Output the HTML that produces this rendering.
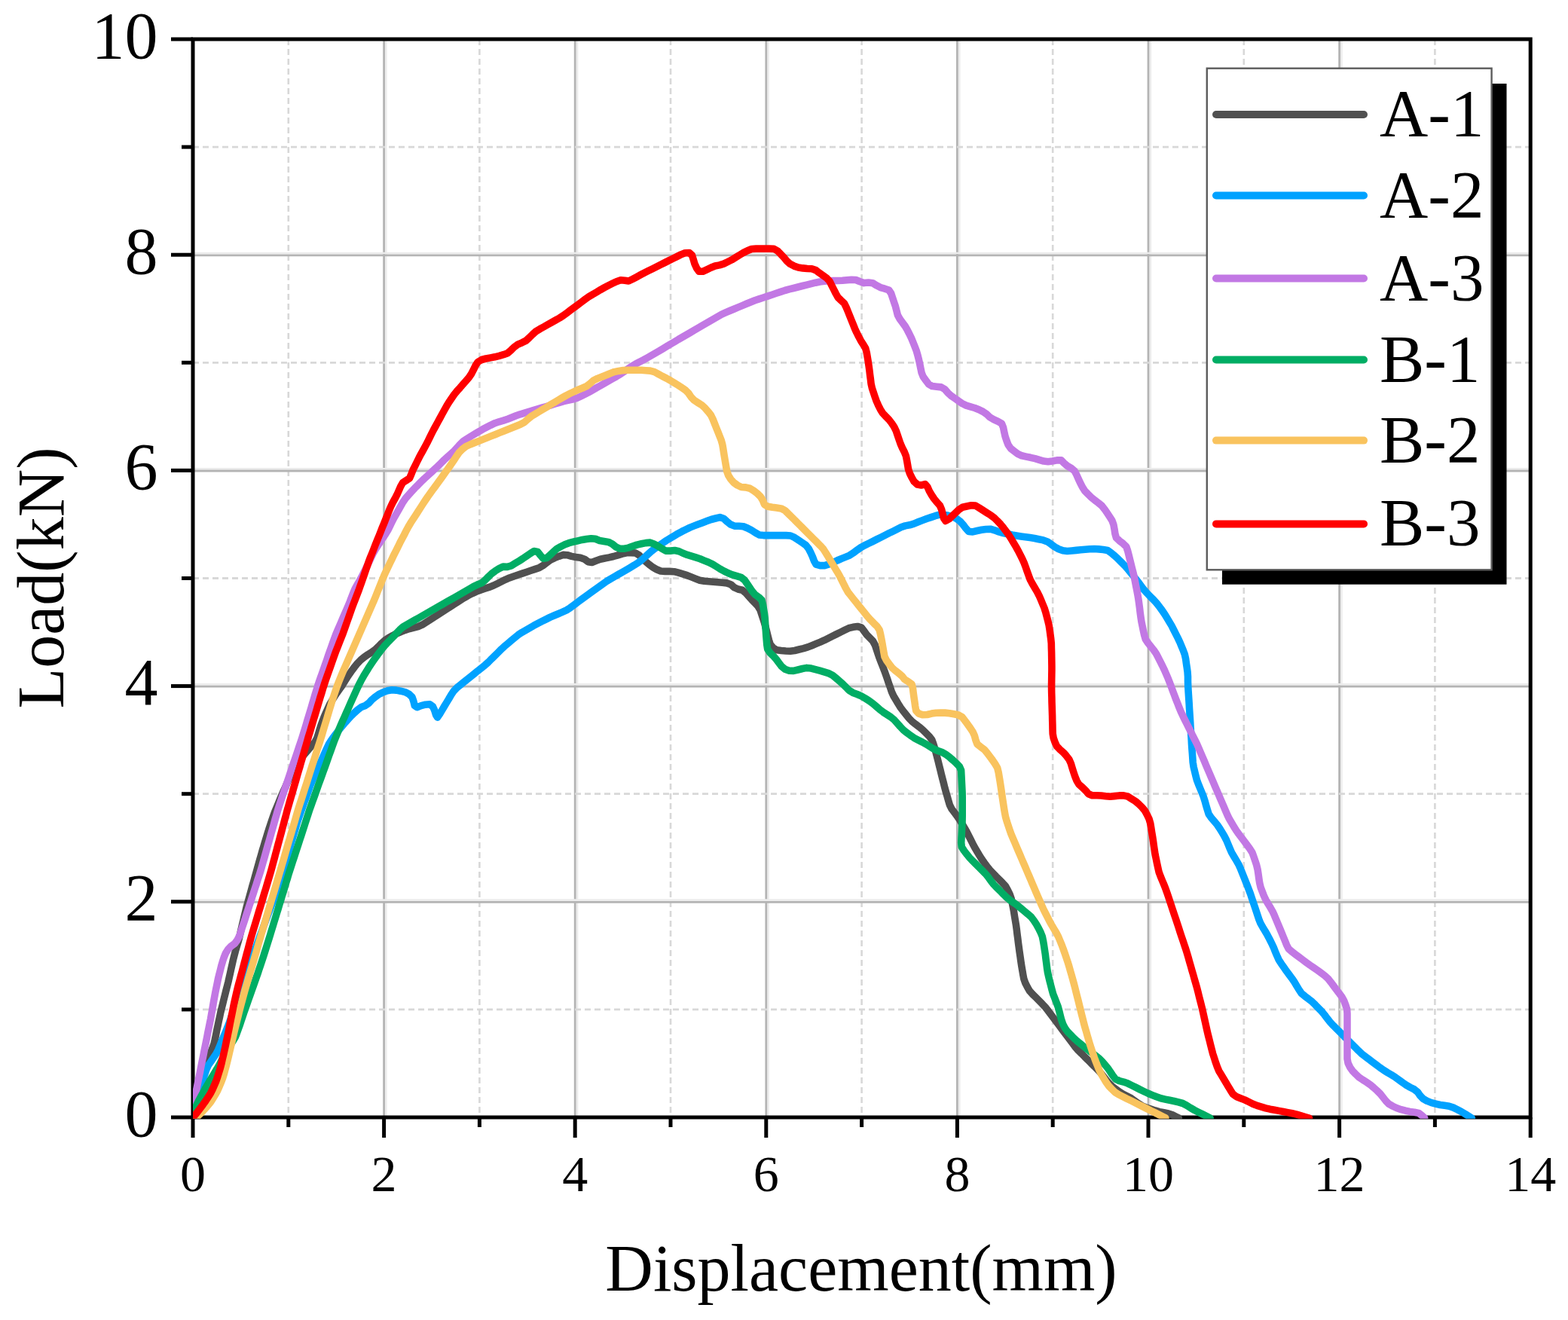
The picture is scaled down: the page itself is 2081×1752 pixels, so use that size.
<!DOCTYPE html>
<html><head><meta charset="utf-8"><title>Load-Displacement</title>
<style>html,body{margin:0;padding:0;background:#fff;}svg{display:block;}</style>
</head><body>
<svg width="2081" height="1752" viewBox="0 0 2081 1752">
<rect x="0" y="0" width="2081" height="1752" fill="#ffffff"/>
<line x1="382.8" y1="52.0" x2="382.8" y2="1483.0" stroke="#d8d8d8" stroke-width="2.6" stroke-dasharray="8,5"/>
<line x1="512.4" y1="52.0" x2="512.4" y2="1483.0" stroke="#ececec" stroke-width="2.6"/>
<line x1="509.6" y1="52.0" x2="509.6" y2="1483.0" stroke="#b4b4b4" stroke-width="2.8"/>
<line x1="636.4" y1="52.0" x2="636.4" y2="1483.0" stroke="#d8d8d8" stroke-width="2.6" stroke-dasharray="8,5"/>
<line x1="766.0" y1="52.0" x2="766.0" y2="1483.0" stroke="#ececec" stroke-width="2.6"/>
<line x1="763.2" y1="52.0" x2="763.2" y2="1483.0" stroke="#b4b4b4" stroke-width="2.8"/>
<line x1="890.0" y1="52.0" x2="890.0" y2="1483.0" stroke="#d8d8d8" stroke-width="2.6" stroke-dasharray="8,5"/>
<line x1="1019.6" y1="52.0" x2="1019.6" y2="1483.0" stroke="#ececec" stroke-width="2.6"/>
<line x1="1016.8" y1="52.0" x2="1016.8" y2="1483.0" stroke="#b4b4b4" stroke-width="2.8"/>
<line x1="1143.6" y1="52.0" x2="1143.6" y2="1483.0" stroke="#d8d8d8" stroke-width="2.6" stroke-dasharray="8,5"/>
<line x1="1273.2" y1="52.0" x2="1273.2" y2="1483.0" stroke="#ececec" stroke-width="2.6"/>
<line x1="1270.4" y1="52.0" x2="1270.4" y2="1483.0" stroke="#b4b4b4" stroke-width="2.8"/>
<line x1="1397.2" y1="52.0" x2="1397.2" y2="1483.0" stroke="#d8d8d8" stroke-width="2.6" stroke-dasharray="8,5"/>
<line x1="1526.8" y1="52.0" x2="1526.8" y2="1483.0" stroke="#ececec" stroke-width="2.6"/>
<line x1="1524.0" y1="52.0" x2="1524.0" y2="1483.0" stroke="#b4b4b4" stroke-width="2.8"/>
<line x1="1650.8" y1="52.0" x2="1650.8" y2="1483.0" stroke="#d8d8d8" stroke-width="2.6" stroke-dasharray="8,5"/>
<line x1="1780.4" y1="52.0" x2="1780.4" y2="1483.0" stroke="#ececec" stroke-width="2.6"/>
<line x1="1777.6" y1="52.0" x2="1777.6" y2="1483.0" stroke="#b4b4b4" stroke-width="2.8"/>
<line x1="1904.4" y1="52.0" x2="1904.4" y2="1483.0" stroke="#d8d8d8" stroke-width="2.6" stroke-dasharray="8,5"/>
<line x1="256.0" y1="1339.9" x2="2031.2" y2="1339.9" stroke="#d8d8d8" stroke-width="2.8" stroke-dasharray="8,5"/>
<line x1="256.0" y1="1194.6" x2="2031.2" y2="1194.6" stroke="#ececec" stroke-width="2.6"/>
<line x1="256.0" y1="1197.4" x2="2031.2" y2="1197.4" stroke="#b4b4b4" stroke-width="2.8"/>
<line x1="256.0" y1="1053.7" x2="2031.2" y2="1053.7" stroke="#d8d8d8" stroke-width="2.8" stroke-dasharray="8,5"/>
<line x1="256.0" y1="908.4" x2="2031.2" y2="908.4" stroke="#ececec" stroke-width="2.6"/>
<line x1="256.0" y1="911.2" x2="2031.2" y2="911.2" stroke="#b4b4b4" stroke-width="2.8"/>
<line x1="256.0" y1="767.5" x2="2031.2" y2="767.5" stroke="#d8d8d8" stroke-width="2.8" stroke-dasharray="8,5"/>
<line x1="256.0" y1="622.2" x2="2031.2" y2="622.2" stroke="#ececec" stroke-width="2.6"/>
<line x1="256.0" y1="625.0" x2="2031.2" y2="625.0" stroke="#b4b4b4" stroke-width="2.8"/>
<line x1="256.0" y1="481.3" x2="2031.2" y2="481.3" stroke="#d8d8d8" stroke-width="2.8" stroke-dasharray="8,5"/>
<line x1="256.0" y1="336.0" x2="2031.2" y2="336.0" stroke="#ececec" stroke-width="2.6"/>
<line x1="256.0" y1="338.8" x2="2031.2" y2="338.8" stroke="#b4b4b4" stroke-width="2.8"/>
<line x1="256.0" y1="195.1" x2="2031.2" y2="195.1" stroke="#d8d8d8" stroke-width="2.8" stroke-dasharray="8,5"/>
<rect x="256.0" y="52.0" width="1775.2" height="1431.0" fill="none" stroke="#000" stroke-width="5"/>
<line x1="256.0" y1="1483.0" x2="256.0" y2="1510.0" stroke="#000" stroke-width="5"/>
<line x1="382.8" y1="1483.0" x2="382.8" y2="1496.0" stroke="#000" stroke-width="5"/>
<line x1="509.6" y1="1483.0" x2="509.6" y2="1510.0" stroke="#000" stroke-width="5"/>
<line x1="636.4" y1="1483.0" x2="636.4" y2="1496.0" stroke="#000" stroke-width="5"/>
<line x1="763.2" y1="1483.0" x2="763.2" y2="1510.0" stroke="#000" stroke-width="5"/>
<line x1="890.0" y1="1483.0" x2="890.0" y2="1496.0" stroke="#000" stroke-width="5"/>
<line x1="1016.8" y1="1483.0" x2="1016.8" y2="1510.0" stroke="#000" stroke-width="5"/>
<line x1="1143.6" y1="1483.0" x2="1143.6" y2="1496.0" stroke="#000" stroke-width="5"/>
<line x1="1270.4" y1="1483.0" x2="1270.4" y2="1510.0" stroke="#000" stroke-width="5"/>
<line x1="1397.2" y1="1483.0" x2="1397.2" y2="1496.0" stroke="#000" stroke-width="5"/>
<line x1="1524.0" y1="1483.0" x2="1524.0" y2="1510.0" stroke="#000" stroke-width="5"/>
<line x1="1650.8" y1="1483.0" x2="1650.8" y2="1496.0" stroke="#000" stroke-width="5"/>
<line x1="1777.6" y1="1483.0" x2="1777.6" y2="1510.0" stroke="#000" stroke-width="5"/>
<line x1="1904.4" y1="1483.0" x2="1904.4" y2="1496.0" stroke="#000" stroke-width="5"/>
<line x1="2031.2" y1="1483.0" x2="2031.2" y2="1510.0" stroke="#000" stroke-width="5"/>
<line x1="227.0" y1="1483.0" x2="256.0" y2="1483.0" stroke="#000" stroke-width="5"/>
<line x1="241.0" y1="1339.9" x2="256.0" y2="1339.9" stroke="#000" stroke-width="5"/>
<line x1="227.0" y1="1196.8" x2="256.0" y2="1196.8" stroke="#000" stroke-width="5"/>
<line x1="241.0" y1="1053.7" x2="256.0" y2="1053.7" stroke="#000" stroke-width="5"/>
<line x1="227.0" y1="910.6" x2="256.0" y2="910.6" stroke="#000" stroke-width="5"/>
<line x1="241.0" y1="767.5" x2="256.0" y2="767.5" stroke="#000" stroke-width="5"/>
<line x1="227.0" y1="624.4" x2="256.0" y2="624.4" stroke="#000" stroke-width="5"/>
<line x1="241.0" y1="481.3" x2="256.0" y2="481.3" stroke="#000" stroke-width="5"/>
<line x1="227.0" y1="338.2" x2="256.0" y2="338.2" stroke="#000" stroke-width="5"/>
<line x1="241.0" y1="195.1" x2="256.0" y2="195.1" stroke="#000" stroke-width="5"/>
<line x1="227.0" y1="52.0" x2="256.0" y2="52.0" stroke="#000" stroke-width="5"/>
<defs><clipPath id="pc"><rect x="256.0" y="52.0" width="1775.2" height="1432.8"/></clipPath></defs>
<g fill="none" stroke-linejoin="round" stroke-linecap="round" clip-path="url(#pc)">
<path d="M254.5,1482.2 L255.2,1476.2 L256.0,1470.3 L256.8,1464.3 L257.9,1458.4 L259.4,1452.6 L260.9,1446.8 L262.5,1441.0 L264.2,1435.3 L266.0,1429.6 L267.9,1423.9 L269.9,1418.2 L272.2,1412.7 L274.8,1407.3 L277.5,1401.9 L279.8,1396.4 L282.1,1390.9 L284.1,1385.2 L285.4,1379.4 L286.6,1373.5 L287.7,1367.6 L289.0,1361.7 L290.2,1355.9 L291.5,1350.0 L292.7,1344.1 L294.1,1338.3 L295.6,1332.5 L297.0,1326.7 L298.5,1320.8 L299.9,1315.0 L301.4,1309.2 L302.9,1303.4 L304.2,1297.5 L305.5,1291.7 L306.8,1285.8 L308.1,1280.0 L309.4,1274.1 L310.9,1268.3 L312.4,1262.5 L314.1,1256.7 L315.8,1251.0 L317.4,1245.2 L318.8,1239.4 L320.1,1233.5 L321.5,1227.7 L322.9,1221.8 L324.3,1216.0 L325.7,1210.2 L327.1,1204.3 L328.7,1198.5 L330.3,1192.8 L331.9,1187.0 L333.5,1181.2 L335.1,1175.4 L336.8,1169.7 L338.4,1163.9 L340.0,1158.1 L341.6,1152.3 L343.2,1146.5 L344.8,1140.8 L346.5,1135.0 L348.1,1129.2 L349.9,1123.5 L351.6,1117.7 L353.3,1112.0 L355.1,1106.2 L356.9,1100.5 L358.8,1094.8 L360.7,1089.1 L362.6,1083.5 L364.6,1077.8 L366.9,1072.3 L369.2,1066.7 L371.5,1061.2 L373.8,1055.7 L376.2,1050.2 L378.7,1044.7 L381.1,1039.2 L383.6,1033.7 L386.0,1028.3 L388.6,1022.9 L391.9,1017.9 L395.3,1012.9 L398.8,1008.0 L402.3,1003.2 L406.2,998.6 L410.1,994.1 L414.0,989.5 L417.9,985.0 L420.7,979.8 L422.5,974.1 L424.2,968.3 L426.0,962.6 L428.1,957.0 L430.2,951.4 L432.6,945.9 L435.1,940.4 L437.6,935.0 L440.6,929.8 L443.8,924.7 L447.1,919.7 L450.6,914.8 L454.0,909.9 L457.2,904.8 L460.4,899.7 L463.7,894.7 L467.1,889.8 L470.7,885.0 L474.5,880.3 L478.7,876.0 L483.3,872.2 L488.2,868.8 L493.3,865.7 L498.1,862.2 L502.4,858.0 L506.6,853.7 L511.0,849.7 L516.0,846.4 L521.3,843.5 L526.6,840.9 L532.1,838.5 L537.7,836.3 L543.4,834.5 L549.2,833.0 L555.0,831.6 L560.5,829.2 L565.5,826.0 L570.6,822.7 L575.6,819.5 L580.7,816.2 L585.7,813.0 L590.7,809.7 L595.8,806.5 L600.8,803.2 L605.9,800.0 L610.9,796.7 L616.0,793.5 L621.2,790.5 L626.5,787.8 L631.9,785.3 L637.6,783.2 L643.3,781.3 L649.0,779.4 L654.6,777.3 L659.9,774.7 L665.3,772.0 L670.7,769.3 L676.2,766.9 L681.8,764.9 L687.5,763.0 L693.2,761.1 L698.9,759.2 L704.6,757.3 L710.3,755.4 L715.9,753.4 L721.0,750.3 L725.8,746.7 L730.6,743.2 L736.0,740.6 L741.6,738.4 L747.2,736.4 L752.8,736.7 L758.5,738.4 L764.4,739.5 L770.3,740.3 L775.8,742.2 L780.5,745.7 L785.6,746.5 L791.1,744.3 L796.7,742.3 L802.6,741.0 L808.5,739.9 L814.3,738.5 L820.1,736.8 L825.8,735.1 L831.6,733.8 L837.6,733.6 L843.5,734.0 L848.2,736.9 L852.5,741.2 L856.9,745.3 L861.4,749.1 L866.2,752.8 L871.4,755.7 L876.9,758.0 L882.8,758.4 L888.8,758.4 L894.7,758.7 L900.5,760.2 L906.2,761.9 L912.0,763.7 L917.6,765.9 L923.1,768.1 L928.7,770.2 L934.6,771.2 L940.6,771.7 L946.6,772.2 L952.5,772.7 L958.5,773.3 L964.5,773.9 L969.9,775.7 L974.3,779.6 L979.5,782.0 L985.2,783.3 L989.7,786.9 L993.6,791.4 L997.6,795.9 L1001.8,800.2 L1005.9,804.5 L1008.9,809.5 L1010.8,815.2 L1012.7,820.9 L1014.5,826.6 L1016.1,832.4 L1017.6,838.2 L1019.0,844.0 L1020.5,849.8 L1022.3,855.4 L1026.1,859.9 L1031.0,862.8 L1036.9,863.5 L1042.9,864.0 L1048.8,864.3 L1054.7,863.5 L1060.5,862.0 L1066.4,860.6 L1072.1,858.9 L1077.7,856.7 L1083.2,854.4 L1088.8,852.1 L1094.2,849.7 L1099.6,847.0 L1105.0,844.3 L1110.3,841.6 L1115.7,839.0 L1121.1,836.3 L1126.5,833.7 L1132.2,832.3 L1138.1,831.5 L1143.2,832.9 L1146.7,837.5 L1150.2,842.3 L1154.4,846.6 L1158.5,850.9 L1161.3,856.1 L1163.2,861.8 L1165.1,867.4 L1167.0,873.1 L1169.2,878.7 L1171.4,884.3 L1173.6,889.9 L1175.6,895.5 L1177.6,901.2 L1179.5,906.9 L1181.5,912.5 L1183.4,918.2 L1185.9,923.7 L1188.9,928.8 L1192.0,934.0 L1195.2,939.1 L1198.8,943.8 L1202.5,948.5 L1206.3,953.2 L1210.4,957.5 L1215.1,961.2 L1219.9,964.8 L1224.5,968.6 L1228.8,972.9 L1233.0,977.1 L1236.7,981.7 L1238.7,987.2 L1240.5,993.0 L1242.1,998.7 L1243.6,1004.6 L1245.1,1010.4 L1246.5,1016.2 L1248.0,1022.0 L1249.4,1027.8 L1250.9,1033.7 L1252.4,1039.5 L1253.8,1045.3 L1255.4,1051.1 L1257.1,1056.9 L1258.7,1062.6 L1260.4,1068.4 L1263.0,1073.7 L1266.6,1078.4 L1270.3,1083.2 L1273.6,1088.1 L1276.7,1093.3 L1279.8,1098.4 L1282.8,1103.6 L1285.5,1109.0 L1288.2,1114.3 L1290.9,1119.7 L1293.7,1125.0 L1296.8,1130.2 L1299.8,1135.3 L1303.0,1140.4 L1306.5,1145.3 L1310.1,1150.1 L1313.8,1154.8 L1317.9,1159.1 L1322.1,1163.4 L1326.4,1167.6 L1330.6,1171.9 L1334.6,1176.3 L1337.5,1181.6 L1340.1,1186.9 L1342.1,1192.5 L1343.3,1198.4 L1344.5,1204.3 L1345.6,1210.2 L1346.5,1216.1 L1347.5,1222.0 L1348.5,1228.0 L1349.3,1233.9 L1350.0,1239.9 L1350.8,1245.8 L1351.5,1251.8 L1352.3,1257.7 L1353.1,1263.7 L1354.0,1269.6 L1354.8,1275.5 L1355.7,1281.5 L1356.7,1287.4 L1357.7,1293.3 L1358.8,1299.2 L1360.8,1304.8 L1363.5,1310.1 L1366.5,1315.3 L1370.5,1319.7 L1374.8,1323.9 L1379.0,1328.1 L1383.2,1332.4 L1387.3,1336.8 L1391.0,1341.5 L1394.6,1346.3 L1398.2,1351.1 L1401.8,1355.9 L1405.4,1360.7 L1409.0,1365.5 L1412.6,1370.3 L1416.2,1375.1 L1419.8,1379.9 L1423.4,1384.7 L1427.0,1389.5 L1430.9,1394.0 L1435.2,1398.2 L1439.4,1402.5 L1443.7,1406.7 L1447.9,1411.0 L1452.2,1415.2 L1456.4,1419.5 L1460.5,1423.8 L1464.3,1428.5 L1468.0,1433.2 L1471.8,1437.8 L1476.1,1442.0 L1480.8,1445.6 L1485.6,1449.2 L1490.7,1452.3 L1496.1,1455.0 L1501.4,1457.8 L1506.3,1461.3 L1511.1,1464.8 L1516.1,1468.1 L1521.6,1470.2 L1527.3,1472.1 L1533.0,1474.0 L1538.8,1475.6 L1544.7,1476.8 L1550.6,1478.0 L1556.2,1479.9 L1561.5,1482.5 L1564.3,1483.9" stroke="#505050" stroke-width="9.6"/>
<path d="M254.5,1482.2 L256.0,1476.4 L257.5,1470.6 L259.1,1464.8 L260.7,1459.0 L262.6,1453.3 L264.5,1447.6 L266.4,1441.9 L268.3,1436.2 L270.2,1430.6 L272.1,1424.9 L274.0,1419.2 L276.5,1413.8 L279.9,1408.9 L283.3,1404.0 L286.7,1399.0 L289.5,1393.7 L291.8,1388.2 L294.0,1382.6 L296.3,1377.1 L298.7,1371.5 L300.9,1366.0 L303.2,1360.4 L305.3,1354.8 L307.2,1349.1 L309.1,1343.4 L311.0,1337.7 L312.9,1332.1 L315.0,1326.4 L317.0,1320.8 L319.0,1315.1 L321.0,1309.5 L323.0,1303.8 L325.1,1298.2 L327.1,1292.5 L329.1,1286.9 L331.1,1281.2 L333.1,1275.6 L335.1,1269.9 L337.2,1264.3 L339.2,1258.6 L341.2,1253.0 L343.3,1247.3 L345.3,1241.7 L347.4,1236.1 L349.5,1230.4 L351.6,1224.8 L353.7,1219.2 L355.8,1213.6 L357.9,1208.0 L360.0,1202.3 L362.1,1196.7 L364.2,1191.1 L366.3,1185.5 L368.3,1179.8 L370.3,1174.2 L372.0,1168.4 L373.7,1162.7 L375.4,1156.9 L377.1,1151.1 L378.7,1145.4 L380.4,1139.6 L382.1,1133.9 L383.8,1128.1 L385.5,1122.3 L387.1,1116.6 L388.8,1110.8 L390.5,1105.1 L392.2,1099.3 L393.9,1093.5 L395.7,1087.8 L397.7,1082.2 L399.7,1076.5 L401.7,1070.9 L403.7,1065.2 L405.8,1059.6 L407.8,1053.9 L409.8,1048.3 L411.8,1042.6 L414.1,1037.1 L416.5,1031.6 L419.0,1026.1 L421.5,1020.7 L423.9,1015.2 L426.4,1009.7 L428.9,1004.2 L431.3,998.8 L433.8,993.3 L436.3,987.9 L439.5,982.8 L443.0,977.9 L446.6,973.1 L450.3,968.4 L454.1,963.7 L457.9,959.2 L461.9,954.7 L466.0,950.3 L470.3,946.1 L474.7,942.1 L479.5,938.5 L485.0,936.4 L489.7,933.0 L493.7,928.6 L498.3,924.8 L503.1,921.3 L508.5,918.8 L514.2,916.8 L520.0,915.7 L525.9,916.1 L531.8,917.2 L537.6,918.6 L542.8,921.3 L547.0,925.3 L548.9,930.9 L550.3,936.6 L553.5,938.7 L558.9,936.6 L564.7,935.2 L570.4,934.7 L574.5,937.9 L576.9,943.3 L578.6,949.0 L580.6,952.1 L583.4,948.1 L586.5,942.9 L589.5,937.8 L592.6,932.6 L595.7,927.5 L598.7,922.3 L602.0,917.3 L606.1,913.1 L610.8,909.3 L615.4,905.5 L620.1,901.7 L624.8,898.0 L629.5,894.2 L634.1,890.4 L638.8,886.7 L643.5,882.9 L648.0,879.0 L652.2,874.7 L656.5,870.5 L660.7,866.3 L665.0,862.0 L669.4,857.9 L674.0,854.1 L678.6,850.2 L683.2,846.4 L687.8,842.6 L692.8,839.3 L698.0,836.3 L703.2,833.3 L708.4,830.3 L713.7,827.5 L719.0,824.8 L724.4,822.1 L729.8,819.4 L735.3,817.0 L740.8,814.7 L746.3,812.4 L751.8,809.9 L756.8,806.7 L761.6,803.1 L766.4,799.5 L771.2,795.9 L776.1,792.3 L780.9,788.8 L785.7,785.3 L790.6,781.8 L795.5,778.3 L800.4,774.8 L805.3,771.4 L810.4,768.3 L815.6,765.3 L820.9,762.3 L826.1,759.3 L831.3,756.3 L836.4,753.3 L841.6,750.2 L846.7,747.0 L851.4,743.4 L855.9,739.4 L860.3,735.4 L864.8,731.4 L869.6,727.7 L874.5,724.3 L879.4,720.9 L884.3,717.5 L889.5,714.4 L894.6,711.3 L899.8,708.2 L905.0,705.4 L910.4,702.7 L915.8,700.1 L921.4,697.9 L927.0,695.8 L932.6,693.7 L938.2,691.6 L943.9,689.5 L949.7,688.0 L955.5,686.6 L960.5,688.2 L964.8,692.3 L969.5,696.0 L974.8,698.1 L980.7,698.2 L986.6,698.7 L992.1,701.0 L997.4,703.8 L1002.4,707.0 L1007.5,709.9 L1013.3,710.6 L1019.3,710.6 L1025.3,710.6 L1031.3,710.6 L1037.3,710.6 L1043.3,710.6 L1049.2,711.0 L1054.5,713.4 L1059.5,716.7 L1064.5,720.1 L1069.4,723.5 L1073.1,728.0 L1075.8,733.3 L1078.3,738.7 L1080.4,744.3 L1083.1,749.1 L1088.5,750.6 L1094.4,750.6 L1100.1,748.9 L1105.6,746.6 L1111.0,744.0 L1116.5,741.6 L1122.1,739.4 L1127.6,737.1 L1132.6,733.8 L1137.4,730.2 L1142.3,726.8 L1147.5,723.9 L1152.9,721.3 L1158.3,718.6 L1163.6,715.9 L1169.0,713.2 L1174.4,710.5 L1179.7,707.8 L1185.1,705.2 L1190.5,702.5 L1195.8,699.8 L1201.4,697.9 L1207.3,696.8 L1213.0,695.1 L1218.6,692.8 L1224.2,690.6 L1229.8,688.5 L1235.5,686.6 L1241.2,684.7 L1246.9,683.1 L1252.7,683.2 L1258.6,684.3 L1264.4,685.7 L1269.6,688.4 L1274.3,692.1 L1278.3,696.5 L1281.9,701.3 L1285.7,705.5 L1290.9,705.9 L1296.7,704.5 L1302.6,703.3 L1308.5,702.5 L1314.4,702.2 L1320.1,703.8 L1325.7,705.9 L1331.5,707.6 L1337.3,708.8 L1343.2,710.0 L1349.1,711.0 L1355.1,711.9 L1361.0,712.7 L1366.9,713.6 L1372.9,714.5 L1378.7,715.7 L1384.6,716.9 L1390.1,718.9 L1395.0,722.3 L1399.8,725.9 L1405.0,728.8 L1410.6,730.8 L1416.4,731.5 L1422.4,731.0 L1428.4,730.4 L1434.3,729.8 L1440.3,729.3 L1446.3,728.8 L1452.3,728.5 L1458.2,728.9 L1464.2,729.5 L1470.0,730.5 L1474.8,733.9 L1479.4,737.7 L1483.8,741.8 L1488.0,746.0 L1492.3,750.3 L1496.3,754.7 L1500.1,759.4 L1503.8,764.0 L1507.6,768.7 L1511.3,773.5 L1514.9,778.3 L1518.5,783.1 L1522.5,787.5 L1526.7,791.8 L1530.9,796.0 L1535.0,800.5 L1538.6,805.2 L1542.2,810.0 L1545.6,815.0 L1548.7,820.1 L1551.8,825.2 L1554.9,830.4 L1557.6,835.7 L1560.3,841.1 L1563.0,846.4 L1565.6,851.8 L1567.9,857.4 L1570.2,862.9 L1572.3,868.5 L1573.6,874.4 L1574.4,880.3 L1575.3,886.2 L1576.1,892.2 L1576.5,898.1 L1576.5,904.1 L1576.7,910.1 L1577.0,916.1 L1577.4,922.1 L1577.8,928.1 L1578.2,934.1 L1578.5,940.1 L1578.9,946.1 L1579.3,952.1 L1579.7,958.0 L1580.0,964.0 L1580.4,970.0 L1580.8,976.0 L1581.2,982.0 L1581.5,988.0 L1581.9,994.0 L1582.4,1000.0 L1582.8,1005.9 L1583.2,1011.9 L1584.1,1017.8 L1585.5,1023.7 L1586.9,1029.5 L1588.4,1035.3 L1590.5,1040.9 L1592.8,1046.5 L1595.1,1052.0 L1597.3,1057.6 L1599.1,1063.3 L1600.7,1069.1 L1602.4,1074.8 L1604.2,1080.5 L1607.5,1085.4 L1611.4,1089.9 L1615.3,1094.5 L1618.7,1099.4 L1621.8,1104.5 L1624.9,1109.7 L1627.6,1115.0 L1629.9,1120.5 L1632.2,1126.1 L1634.6,1131.6 L1637.6,1136.7 L1640.7,1141.9 L1643.7,1147.1 L1646.2,1152.5 L1648.4,1158.1 L1650.7,1163.7 L1652.9,1169.2 L1655.1,1174.8 L1657.3,1180.4 L1659.4,1186.0 L1661.3,1191.7 L1663.2,1197.4 L1665.1,1203.1 L1667.0,1208.8 L1668.9,1214.5 L1670.8,1220.2 L1673.0,1225.7 L1676.0,1230.9 L1679.1,1236.0 L1682.1,1241.2 L1684.9,1246.5 L1687.6,1251.9 L1690.2,1257.3 L1692.4,1262.9 L1694.7,1268.4 L1697.1,1273.8 L1700.4,1278.9 L1703.8,1283.8 L1707.2,1288.7 L1710.8,1293.5 L1714.4,1298.3 L1717.8,1303.3 L1720.9,1308.4 L1724.0,1313.6 L1727.3,1318.5 L1731.9,1322.3 L1736.7,1325.9 L1741.4,1329.6 L1745.7,1333.8 L1749.9,1338.1 L1754.1,1342.4 L1757.9,1347.0 L1761.5,1351.8 L1765.2,1356.5 L1769.3,1360.9 L1773.5,1365.1 L1777.8,1369.4 L1782.0,1373.6 L1786.2,1377.9 L1790.5,1382.1 L1794.7,1386.3 L1799.0,1390.6 L1803.2,1394.8 L1807.6,1398.9 L1812.3,1402.6 L1817.1,1406.2 L1821.9,1409.8 L1826.7,1413.4 L1831.5,1417.0 L1836.4,1420.4 L1841.5,1423.6 L1846.7,1426.6 L1851.8,1429.8 L1856.7,1433.3 L1861.5,1436.9 L1866.4,1440.3 L1871.6,1443.2 L1877.0,1445.9 L1881.5,1449.5 L1884.9,1454.4 L1889.0,1458.6 L1894.2,1461.4 L1899.8,1463.6 L1905.6,1465.1 L1911.4,1466.5 L1917.3,1467.3 L1923.3,1468.2 L1928.9,1470.1 L1934.2,1472.7 L1939.5,1475.5 L1944.7,1478.6 L1949.7,1481.8 L1953.3,1484.0" stroke="#00a2ff" stroke-width="9.6"/>
<path d="M254.5,1482.2 L255.3,1476.3 L256.2,1470.3 L257.3,1464.4 L258.4,1458.5 L259.5,1452.6 L260.7,1446.7 L261.8,1440.9 L263.0,1435.0 L264.2,1429.1 L265.4,1423.2 L266.5,1417.3 L267.7,1411.4 L268.9,1405.5 L270.1,1399.7 L271.2,1393.8 L272.4,1387.9 L273.6,1382.0 L274.8,1376.1 L275.9,1370.2 L277.1,1364.4 L278.3,1358.5 L279.5,1352.6 L280.5,1346.7 L281.6,1340.8 L282.6,1334.9 L283.6,1329.0 L284.7,1323.1 L285.8,1317.2 L287.0,1311.3 L288.2,1305.4 L289.4,1299.5 L290.8,1293.7 L292.3,1287.9 L293.7,1282.1 L295.4,1276.3 L297.3,1270.6 L299.5,1265.1 L302.7,1260.0 L306.7,1255.8 L311.5,1252.3 L315.0,1247.6 L317.7,1242.3 L319.7,1236.6 L321.5,1230.9 L323.4,1225.2 L325.3,1219.5 L327.1,1213.8 L329.0,1208.1 L330.8,1202.4 L332.7,1196.7 L334.5,1191.0 L336.4,1185.3 L338.2,1179.6 L340.1,1173.9 L341.9,1168.1 L343.8,1162.4 L345.6,1156.7 L347.3,1151.0 L348.9,1145.2 L350.6,1139.4 L352.2,1133.6 L353.8,1127.9 L355.4,1122.1 L357.1,1116.3 L358.7,1110.5 L360.3,1104.8 L362.0,1099.0 L363.6,1093.2 L365.2,1087.4 L366.9,1081.7 L368.5,1075.9 L370.3,1070.2 L372.2,1064.5 L374.1,1058.8 L376.0,1053.1 L378.0,1047.4 L379.9,1041.7 L381.8,1036.1 L383.7,1030.4 L385.6,1024.7 L387.5,1019.0 L389.4,1013.3 L391.4,1007.6 L393.3,1001.9 L395.2,996.3 L397.1,990.6 L399.0,984.9 L400.9,979.2 L402.7,973.5 L404.5,967.7 L406.2,962.0 L407.9,956.2 L409.6,950.5 L411.4,944.7 L413.1,939.0 L414.8,933.2 L416.5,927.5 L418.2,921.7 L420.0,916.0 L421.7,910.3 L423.6,904.6 L425.6,898.9 L427.6,893.3 L429.6,887.6 L431.6,881.9 L433.6,876.3 L435.5,870.6 L437.5,864.9 L439.5,859.3 L441.5,853.6 L443.5,848.0 L445.6,842.3 L447.9,836.8 L450.3,831.3 L452.7,825.8 L455.0,820.3 L457.4,814.8 L459.8,809.3 L462.2,803.8 L464.5,798.2 L466.6,792.6 L468.8,787.0 L471.1,781.5 L474.0,776.3 L477.0,771.1 L479.9,765.8 L482.6,760.4 L485.3,755.1 L487.9,749.7 L490.5,744.3 L493.1,738.9 L495.7,733.5 L498.7,728.3 L502.0,723.3 L505.3,718.3 L508.7,713.3 L512.0,708.3 L515.1,703.2 L517.7,697.8 L520.3,692.4 L523.1,687.1 L526.1,681.9 L529.1,676.6 L532.0,671.4 L535.0,666.2 L538.4,661.3 L542.4,656.8 L546.4,652.3 L550.4,647.9 L554.7,643.7 L558.9,639.4 L563.2,635.2 L567.6,631.2 L572.1,627.2 L576.5,623.1 L580.9,619.0 L585.1,614.8 L589.4,610.5 L593.8,606.5 L598.3,602.5 L602.7,598.5 L606.8,594.1 L610.7,589.6 L615.0,585.5 L620.0,582.2 L625.1,579.0 L630.3,575.9 L635.4,572.8 L640.6,569.8 L645.9,567.0 L651.2,564.3 L656.7,561.7 L662.3,559.8 L668.1,558.1 L673.8,556.2 L679.4,554.0 L684.9,551.8 L690.6,549.8 L696.3,548.1 L702.1,546.4 L707.8,544.6 L713.6,542.9 L719.3,541.2 L725.1,539.5 L730.8,537.8 L736.6,536.0 L742.3,534.3 L748.1,532.6 L753.9,531.3 L759.8,530.1 L765.5,528.5 L770.9,526.0 L776.3,523.3 L781.6,520.5 L786.8,517.5 L792.0,514.5 L797.3,511.6 L802.5,508.6 L807.7,505.6 L812.9,502.6 L818.1,499.7 L823.3,496.6 L828.2,493.3 L833.2,489.8 L838.1,486.4 L843.2,483.3 L848.5,480.5 L853.9,477.8 L859.1,474.9 L864.3,471.9 L869.5,468.9 L874.7,465.9 L879.8,462.8 L885.0,459.7 L890.1,456.6 L895.3,453.6 L900.4,450.5 L905.6,447.5 L910.8,444.5 L916.0,441.5 L921.2,438.4 L926.4,435.4 L931.5,432.4 L936.7,429.4 L941.9,426.3 L947.1,423.3 L952.3,420.3 L957.5,417.3 L962.9,414.9 L968.5,412.5 L974.0,410.2 L979.6,407.9 L985.1,405.6 L990.6,403.3 L996.2,401.0 L1001.7,398.8 L1007.4,396.9 L1013.1,395.0 L1018.8,393.1 L1024.5,391.2 L1030.2,389.3 L1035.9,387.4 L1041.6,385.5 L1047.4,383.9 L1053.2,382.5 L1059.0,381.0 L1064.8,379.5 L1070.6,378.1 L1076.5,376.6 L1082.3,375.2 L1088.2,374.0 L1094.1,373.3 L1100.1,372.7 L1106.1,372.6 L1112.1,372.5 L1118.1,372.2 L1124.0,371.7 L1130.0,371.2 L1135.8,371.5 L1141.3,373.8 L1146.8,375.6 L1152.6,375.0 L1158.2,375.7 L1163.2,378.8 L1168.5,381.6 L1174.2,383.2 L1179.7,385.0 L1182.7,389.5 L1184.6,395.2 L1186.5,400.9 L1188.4,406.6 L1189.9,412.4 L1191.4,418.2 L1194.2,423.4 L1197.7,428.2 L1201.3,433.0 L1204.3,438.2 L1207.0,443.5 L1209.6,448.9 L1211.9,454.5 L1214.1,460.1 L1216.3,465.7 L1217.9,471.4 L1219.4,477.2 L1220.7,483.1 L1221.9,489.0 L1223.1,494.8 L1225.3,500.2 L1228.9,505.1 L1232.5,509.8 L1237.2,512.6 L1243.2,513.3 L1249.1,513.9 L1253.9,516.6 L1257.8,521.2 L1262.2,525.2 L1267.1,528.6 L1272.0,532.1 L1276.9,535.5 L1282.2,538.1 L1288.0,539.8 L1293.7,541.5 L1299.3,543.7 L1304.6,546.4 L1309.5,549.8 L1313.9,553.9 L1319.0,556.8 L1324.5,559.3 L1329.4,562.1 L1331.5,567.3 L1332.7,573.1 L1334.0,579.0 L1335.9,584.7 L1338.0,590.3 L1341.3,595.1 L1345.9,598.7 L1350.7,602.3 L1356.0,604.8 L1361.9,606.1 L1367.7,607.3 L1373.6,608.7 L1379.3,610.4 L1385.1,612.1 L1390.9,612.8 L1396.8,612.0 L1402.7,610.9 L1408.2,610.7 L1412.1,614.7 L1416.6,618.5 L1421.8,621.5 L1426.2,625.1 L1428.9,630.4 L1431.3,635.9 L1433.9,641.3 L1436.6,646.7 L1439.8,651.6 L1444.0,655.9 L1448.3,660.1 L1452.9,663.9 L1457.7,667.5 L1462.3,671.3 L1466.0,675.9 L1469.4,680.9 L1472.7,685.9 L1475.9,690.9 L1477.9,696.4 L1479.0,702.3 L1479.9,708.3 L1481.5,713.8 L1485.7,717.8 L1490.5,721.4 L1494.7,725.4 L1496.6,730.9 L1498.1,736.7 L1499.5,742.5 L1501.0,748.4 L1502.4,754.2 L1503.9,760.0 L1505.3,765.8 L1506.5,771.7 L1507.6,777.6 L1508.8,783.5 L1509.9,789.4 L1510.9,795.3 L1511.7,801.2 L1512.5,807.2 L1513.2,813.2 L1514.0,819.1 L1514.9,825.0 L1516.1,830.9 L1517.3,836.8 L1518.6,842.6 L1520.2,848.3 L1523.5,853.2 L1527.3,857.9 L1531.0,862.6 L1534.4,867.5 L1537.2,872.8 L1539.9,878.2 L1542.6,883.5 L1545.2,888.9 L1547.6,894.4 L1550.0,899.9 L1552.2,905.5 L1554.3,911.1 L1556.4,916.8 L1558.5,922.4 L1560.6,928.0 L1562.8,933.6 L1565.0,939.1 L1567.3,944.7 L1569.8,950.1 L1572.5,955.5 L1575.2,960.9 L1577.9,966.2 L1580.6,971.6 L1583.2,977.0 L1585.9,982.3 L1588.6,987.7 L1591.0,993.2 L1593.3,998.7 L1595.7,1004.2 L1598.1,1009.7 L1600.4,1015.3 L1602.8,1020.8 L1605.2,1026.3 L1607.5,1031.8 L1609.9,1037.3 L1612.2,1042.8 L1614.6,1048.4 L1617.0,1053.9 L1619.3,1059.4 L1621.7,1064.9 L1624.1,1070.4 L1626.4,1075.9 L1628.8,1081.4 L1631.4,1086.8 L1634.5,1092.0 L1637.5,1097.1 L1640.7,1102.2 L1644.2,1107.1 L1647.8,1111.9 L1651.4,1116.7 L1655.0,1121.5 L1658.6,1126.3 L1661.8,1131.3 L1663.9,1136.9 L1665.8,1142.6 L1667.7,1148.3 L1669.1,1154.1 L1670.0,1160.0 L1670.8,1166.0 L1671.7,1171.9 L1673.1,1177.7 L1675.2,1183.3 L1677.4,1188.9 L1679.9,1194.3 L1682.9,1199.5 L1686.0,1204.6 L1689.0,1209.8 L1691.5,1215.3 L1693.8,1220.8 L1696.1,1226.3 L1698.4,1231.9 L1700.7,1237.4 L1703.0,1243.0 L1705.3,1248.5 L1707.5,1254.1 L1710.2,1259.3 L1714.6,1263.2 L1719.4,1266.8 L1724.2,1270.4 L1729.0,1274.0 L1733.8,1277.6 L1738.7,1281.1 L1743.7,1284.5 L1748.6,1287.9 L1753.4,1291.4 L1758.2,1295.0 L1762.6,1299.0 L1766.3,1303.7 L1769.9,1308.5 L1773.5,1313.3 L1777.1,1318.1 L1780.7,1322.9 L1783.6,1328.1 L1785.8,1333.7 L1787.6,1339.4 L1788.0,1345.3 L1788.0,1351.3 L1788.0,1357.3 L1788.0,1363.3 L1788.0,1369.3 L1788.0,1375.3 L1788.0,1381.3 L1788.0,1387.3 L1788.0,1393.3 L1788.0,1399.3 L1788.0,1405.3 L1789.1,1411.1 L1791.6,1416.4 L1795.0,1421.3 L1799.2,1425.6 L1803.5,1429.7 L1808.5,1433.1 L1813.5,1436.3 L1818.5,1439.7 L1823.0,1443.5 L1827.5,1447.5 L1831.8,1451.7 L1835.5,1456.4 L1839.2,1461.1 L1843.3,1465.3 L1848.5,1468.2 L1853.9,1470.8 L1859.5,1472.7 L1865.4,1474.2 L1871.2,1475.4 L1877.2,1476.2 L1882.9,1477.4 L1887.5,1480.9 L1890.7,1484.0" stroke="#c278e4" stroke-width="9.6"/>
<path d="M254.5,1482.2 L256.8,1476.6 L259.1,1471.1 L261.4,1465.6 L264.1,1460.2 L266.9,1455.0 L269.8,1449.7 L272.7,1444.4 L275.7,1439.2 L278.7,1434.0 L281.7,1428.9 L284.9,1423.7 L288.0,1418.6 L291.0,1413.4 L293.7,1408.1 L296.4,1402.7 L299.4,1397.5 L302.6,1392.4 L305.8,1387.3 L308.9,1382.3 L312.0,1377.1 L314.2,1371.6 L316.3,1365.9 L318.3,1360.3 L320.2,1354.6 L322.1,1348.9 L324.0,1343.2 L326.0,1337.6 L328.0,1331.9 L330.0,1326.2 L332.0,1320.6 L334.0,1314.9 L336.0,1309.3 L338.0,1303.6 L340.0,1297.9 L342.0,1292.3 L343.9,1286.6 L345.8,1280.9 L347.7,1275.2 L349.6,1269.5 L351.4,1263.8 L353.2,1258.1 L355.0,1252.4 L356.8,1246.6 L358.6,1240.9 L360.3,1235.2 L362.1,1229.4 L363.8,1223.7 L365.6,1217.9 L367.3,1212.2 L369.1,1206.5 L370.8,1200.7 L372.6,1195.0 L374.3,1189.2 L376.1,1183.5 L377.8,1177.8 L379.5,1172.0 L381.3,1166.3 L383.0,1160.5 L384.8,1154.8 L386.7,1149.1 L388.5,1143.4 L390.4,1137.7 L392.2,1132.0 L394.1,1126.3 L396.0,1120.6 L397.8,1114.9 L399.7,1109.2 L401.5,1103.5 L403.4,1097.8 L405.2,1092.1 L407.1,1086.3 L409.0,1080.6 L410.8,1074.9 L412.8,1069.3 L414.8,1063.6 L416.9,1058.0 L418.9,1052.3 L420.9,1046.7 L422.9,1041.0 L425.0,1035.4 L427.0,1029.8 L429.0,1024.1 L431.1,1018.5 L433.1,1012.8 L435.1,1007.2 L437.1,1001.5 L439.2,995.9 L441.2,990.2 L443.2,984.6 L445.4,979.0 L447.7,973.4 L450.0,967.9 L452.3,962.4 L454.7,956.9 L457.2,951.4 L459.6,945.9 L462.1,940.4 L464.5,934.9 L466.9,929.5 L469.4,924.0 L471.9,918.5 L474.4,913.1 L477.0,907.7 L479.7,902.3 L482.7,897.1 L485.8,892.0 L488.9,886.9 L492.2,881.9 L495.6,876.9 L499.0,872.0 L502.6,867.2 L506.2,862.4 L509.9,857.6 L514.0,853.3 L518.2,849.0 L522.4,844.7 L526.4,840.3 L530.5,835.9 L535.0,832.0 L540.2,829.0 L545.4,826.0 L550.6,823.0 L555.8,820.1 L561.0,817.1 L566.2,814.1 L571.4,811.1 L576.6,808.2 L581.8,805.2 L587.1,802.2 L592.3,799.2 L597.5,796.3 L602.7,793.3 L607.9,790.3 L613.1,787.3 L618.3,784.3 L623.5,781.3 L628.6,778.3 L634.0,775.8 L639.5,773.7 L643.9,769.8 L648.2,765.5 L652.5,761.4 L657.3,757.8 L662.4,754.6 L667.6,752.1 L673.2,752.4 L678.6,750.8 L683.7,747.7 L688.9,744.6 L693.9,741.4 L698.9,738.0 L703.8,734.6 L708.7,731.5 L713.6,732.4 L717.2,737.0 L720.8,741.2 L725.8,740.4 L730.3,736.5 L734.5,732.3 L739.0,728.4 L744.2,725.5 L749.6,722.8 L755.1,720.7 L760.9,719.2 L766.8,717.8 L772.6,716.4 L778.5,715.4 L784.5,714.7 L790.2,715.3 L795.7,717.5 L801.5,718.5 L807.4,719.4 L812.6,722.0 L817.2,725.8 L822.4,728.1 L828.3,728.2 L834.1,727.1 L839.7,725.0 L845.3,723.1 L851.2,721.8 L857.1,720.6 L862.9,720.1 L868.3,722.3 L873.6,725.1 L878.6,728.3 L883.7,731.1 L889.5,731.1 L895.5,730.5 L901.1,731.7 L906.5,734.3 L912.1,736.4 L917.8,738.1 L923.5,739.9 L929.2,741.8 L934.8,744.1 L940.3,746.3 L945.7,748.9 L950.8,752.0 L955.9,755.2 L961.2,758.1 L966.6,760.8 L972.1,762.9 L977.9,764.7 L983.6,766.4 L988.1,769.8 L991.5,774.7 L994.8,779.7 L998.2,784.7 L1002.0,789.1 L1006.9,792.6 L1011.0,796.5 L1012.4,802.1 L1013.4,808.1 L1014.4,814.0 L1015.1,819.9 L1015.5,825.9 L1015.9,831.9 L1016.4,837.9 L1016.8,843.9 L1017.3,849.8 L1017.8,855.8 L1018.7,861.6 L1021.9,866.3 L1026.2,870.6 L1030.2,875.0 L1033.8,879.8 L1037.4,884.6 L1041.9,888.2 L1047.5,890.2 L1053.2,890.4 L1059.0,889.0 L1064.9,887.5 L1070.7,886.4 L1076.5,887.1 L1082.3,888.6 L1088.1,890.1 L1093.9,891.8 L1099.6,893.6 L1104.9,896.2 L1109.5,900.0 L1114.0,903.9 L1118.5,907.9 L1122.8,912.1 L1127.0,916.3 L1132.0,919.4 L1137.6,921.5 L1143.1,923.9 L1148.3,926.9 L1153.4,930.1 L1158.2,933.6 L1162.8,937.5 L1167.3,941.4 L1172.0,945.1 L1177.1,948.4 L1182.1,951.6 L1186.7,955.4 L1190.7,959.9 L1194.6,964.3 L1198.8,968.7 L1203.4,972.4 L1208.2,976.0 L1213.2,979.4 L1218.5,982.2 L1223.8,984.9 L1229.1,987.8 L1234.2,991.0 L1239.3,994.1 L1244.7,996.5 L1250.4,998.6 L1255.6,1001.4 L1260.3,1005.1 L1264.8,1009.0 L1269.2,1013.1 L1273.4,1017.4 L1275.6,1022.5 L1275.9,1028.5 L1276.2,1034.5 L1276.5,1040.5 L1276.8,1046.5 L1277.1,1052.5 L1277.2,1058.4 L1277.2,1064.4 L1277.2,1070.4 L1277.2,1076.4 L1277.2,1082.4 L1277.1,1088.4 L1276.9,1094.4 L1276.6,1100.4 L1276.3,1106.4 L1276.0,1112.4 L1275.7,1118.4 L1276.3,1124.1 L1279.5,1129.1 L1283.1,1133.8 L1286.9,1138.5 L1291.1,1142.8 L1295.3,1147.0 L1299.6,1151.3 L1303.8,1155.5 L1308.0,1159.8 L1311.8,1164.4 L1315.2,1169.3 L1318.9,1174.0 L1323.1,1178.3 L1327.4,1182.5 L1331.6,1186.8 L1335.9,1191.0 L1340.5,1194.8 L1345.4,1198.2 L1350.3,1201.7 L1354.9,1205.5 L1359.5,1209.4 L1364.1,1213.2 L1368.6,1217.2 L1372.2,1221.9 L1375.5,1226.9 L1378.4,1232.1 L1381.1,1237.5 L1383.3,1243.0 L1384.5,1248.9 L1385.5,1254.8 L1386.4,1260.7 L1387.3,1266.6 L1388.0,1272.6 L1388.8,1278.5 L1389.5,1284.5 L1390.4,1290.4 L1391.7,1296.3 L1393.1,1302.1 L1394.6,1307.9 L1396.1,1313.7 L1397.7,1319.5 L1399.9,1325.1 L1402.1,1330.7 L1404.2,1336.3 L1405.8,1342.1 L1407.2,1347.9 L1408.7,1353.7 L1410.7,1359.3 L1413.4,1364.7 L1416.9,1369.5 L1421.1,1373.7 L1425.3,1378.0 L1429.7,1382.0 L1434.4,1385.8 L1439.0,1389.6 L1443.7,1393.3 L1448.5,1397.0 L1453.3,1400.6 L1458.0,1404.2 L1462.3,1408.4 L1466.2,1412.9 L1470.1,1417.6 L1473.5,1422.5 L1476.8,1427.5 L1480.4,1432.1 L1485.5,1434.6 L1491.3,1436.1 L1496.9,1438.1 L1502.3,1440.7 L1507.7,1443.4 L1513.0,1446.1 L1518.4,1448.7 L1523.8,1451.3 L1529.4,1453.6 L1535.0,1455.8 L1540.6,1457.8 L1546.4,1459.1 L1552.3,1460.3 L1558.2,1461.5 L1564.0,1462.9 L1569.8,1464.5 L1575.0,1467.3 L1580.1,1470.5 L1585.3,1473.5 L1590.6,1476.2 L1596.0,1478.9 L1601.4,1481.5 L1606.1,1483.9" stroke="#00ad64" stroke-width="9.6"/>
<path d="M258.9,1485.2 L263.1,1480.9 L267.4,1476.7 L271.5,1472.3 L275.4,1467.8 L279.3,1463.2 L282.5,1458.1 L285.6,1453.0 L288.6,1447.8 L291.0,1442.3 L293.3,1436.8 L295.5,1431.2 L297.3,1425.5 L298.8,1419.7 L300.4,1413.9 L301.9,1408.1 L303.3,1402.2 L304.6,1396.4 L306.0,1390.6 L307.4,1384.7 L308.7,1378.9 L310.1,1373.0 L311.4,1367.2 L312.9,1361.3 L314.3,1355.5 L315.8,1349.7 L317.2,1343.9 L318.7,1338.1 L320.2,1332.3 L321.8,1326.5 L323.3,1320.7 L324.9,1314.9 L326.6,1309.1 L328.3,1303.4 L330.0,1297.6 L331.7,1291.9 L333.4,1286.1 L335.1,1280.4 L336.8,1274.6 L338.5,1268.8 L340.2,1263.1 L341.8,1257.3 L343.4,1251.5 L345.1,1245.8 L346.8,1240.0 L348.5,1234.3 L350.2,1228.5 L352.0,1222.8 L353.7,1217.0 L355.4,1211.3 L357.1,1205.5 L358.8,1199.8 L360.5,1194.0 L362.2,1188.3 L364.0,1182.5 L365.7,1176.8 L367.4,1171.0 L369.1,1165.3 L370.8,1159.5 L372.5,1153.8 L374.2,1148.0 L375.9,1142.3 L377.6,1136.5 L379.2,1130.7 L380.9,1125.0 L382.6,1119.2 L384.3,1113.5 L386.0,1107.7 L387.7,1101.9 L389.4,1096.2 L391.1,1090.4 L392.7,1084.7 L394.4,1078.9 L396.1,1073.2 L397.9,1067.4 L399.8,1061.7 L401.6,1056.0 L403.4,1050.3 L405.2,1044.6 L407.1,1038.9 L408.9,1033.1 L410.7,1027.4 L412.5,1021.7 L414.3,1016.0 L416.2,1010.3 L418.0,1004.6 L419.8,998.8 L421.6,993.1 L423.5,987.4 L425.3,981.7 L427.1,976.0 L428.8,970.2 L430.5,964.5 L432.3,958.7 L434.0,953.0 L435.7,947.2 L437.4,941.5 L439.2,935.7 L440.9,930.0 L442.8,924.3 L444.7,918.6 L446.6,912.9 L448.7,907.3 L450.9,901.7 L453.2,896.2 L455.5,890.6 L457.9,885.1 L460.3,879.7 L462.7,874.2 L465.1,868.7 L467.5,863.2 L469.9,857.7 L472.3,852.2 L474.7,846.7 L477.1,841.2 L479.5,835.7 L481.9,830.2 L484.3,824.7 L486.7,819.2 L489.1,813.7 L491.5,808.2 L493.9,802.7 L496.3,797.1 L498.6,791.6 L500.8,786.0 L503.0,780.5 L505.3,774.9 L507.5,769.3 L509.8,763.8 L512.3,758.3 L514.9,752.9 L517.5,747.5 L520.1,742.1 L522.7,736.7 L525.4,731.3 L528.1,726.0 L530.7,720.6 L533.5,715.3 L536.3,710.0 L539.0,704.6 L541.9,699.3 L544.9,694.2 L548.2,689.2 L551.5,684.1 L554.7,679.1 L558.0,674.0 L561.2,669.0 L564.5,664.0 L567.9,659.0 L571.4,654.2 L574.9,649.3 L578.5,644.5 L582.0,639.6 L585.5,634.8 L589.0,629.9 L592.5,625.0 L596.0,620.1 L599.4,615.2 L602.8,610.2 L606.1,605.2 L609.5,600.3 L613.7,596.1 L618.4,592.5 L623.9,590.0 L629.5,587.8 L635.0,585.6 L640.6,583.4 L646.2,581.1 L651.7,578.9 L657.3,576.7 L662.9,574.4 L668.4,572.2 L674.0,570.0 L679.6,567.8 L685.2,565.5 L690.7,563.3 L695.9,560.5 L700.3,556.5 L704.9,552.7 L710.0,549.6 L715.2,546.5 L720.3,543.4 L725.5,540.3 L730.6,537.2 L735.8,534.1 L740.9,531.0 L746.0,528.0 L751.3,525.0 L756.6,522.3 L762.0,519.7 L767.5,517.2 L773.1,515.0 L778.5,512.6 L783.2,509.0 L787.6,505.0 L792.9,502.4 L798.5,500.2 L804.1,498.0 L809.6,495.7 L815.2,493.6 L821.1,492.4 L827.0,491.6 L833.0,491.2 L839.0,491.2 L845.0,491.2 L851.0,491.3 L857.0,491.7 L862.9,492.1 L868.6,493.6 L873.8,496.5 L879.1,499.4 L884.5,502.1 L889.7,505.0 L894.8,508.1 L899.9,511.3 L904.9,514.6 L909.9,518.0 L914.0,522.2 L917.3,527.1 L921.4,531.3 L926.5,534.6 L931.5,537.8 L935.9,541.8 L939.8,546.3 L943.5,551.0 L946.1,556.4 L948.3,561.9 L950.5,567.5 L952.8,573.1 L955.0,578.7 L957.2,584.2 L958.8,590.0 L959.8,595.9 L960.7,601.8 L961.7,607.8 L962.7,613.7 L963.7,619.6 L964.7,625.5 L966.7,631.0 L969.9,636.1 L973.8,640.5 L978.6,644.0 L983.8,646.5 L989.7,646.9 L995.3,648.2 L1000.4,651.4 L1005.1,655.0 L1009.4,659.2 L1012.4,664.2 L1014.5,669.6 L1019.0,672.3 L1024.9,673.3 L1030.8,674.1 L1036.7,674.9 L1041.8,677.5 L1046.1,681.7 L1050.3,685.9 L1054.6,690.1 L1058.8,694.4 L1063.1,698.6 L1067.3,702.9 L1071.5,707.1 L1075.8,711.4 L1080.0,715.6 L1084.3,719.8 L1088.5,724.1 L1092.6,728.5 L1095.8,733.5 L1098.9,738.6 L1102.0,743.8 L1105.1,748.9 L1108.2,754.1 L1111.3,759.2 L1114.3,764.4 L1117.0,769.7 L1119.7,775.1 L1122.4,780.5 L1125.3,785.7 L1129.0,790.4 L1132.7,795.1 L1136.5,799.8 L1140.2,804.5 L1144.0,809.1 L1147.7,813.8 L1151.5,818.5 L1155.5,822.9 L1159.7,827.2 L1164.0,831.4 L1167.2,836.2 L1168.6,842.0 L1169.8,847.9 L1170.9,853.8 L1171.9,859.7 L1172.9,865.6 L1174.0,871.5 L1176.6,876.7 L1180.2,881.5 L1183.9,886.2 L1188.3,890.2 L1193.1,893.8 L1197.4,897.6 L1200.6,901.7 L1205.5,904.8 L1210.1,908.2 L1211.5,913.7 L1212.2,919.7 L1213.0,925.6 L1213.9,931.6 L1214.7,937.5 L1215.7,943.3 L1219.2,947.1 L1224.8,948.8 L1230.6,948.5 L1236.4,947.1 L1242.3,946.2 L1248.3,946.1 L1254.3,946.1 L1260.2,946.7 L1266.1,947.8 L1272.0,949.0 L1276.9,951.7 L1280.5,956.4 L1284.1,961.2 L1287.6,966.1 L1290.9,971.1 L1293.4,976.5 L1294.9,982.3 L1297.0,987.7 L1301.5,991.3 L1306.3,994.8 L1310.1,999.4 L1313.7,1004.2 L1317.3,1009.0 L1320.7,1014.0 L1323.7,1019.1 L1325.1,1024.8 L1326.1,1030.7 L1327.1,1036.7 L1328.0,1042.6 L1328.9,1048.5 L1329.7,1054.5 L1330.6,1060.4 L1331.5,1066.3 L1332.4,1072.3 L1333.4,1078.2 L1334.5,1084.1 L1336.1,1089.8 L1338.0,1095.5 L1339.9,1101.2 L1341.9,1106.9 L1344.2,1112.4 L1346.6,1117.9 L1348.9,1123.4 L1351.3,1129.0 L1353.7,1134.5 L1356.0,1140.0 L1358.4,1145.5 L1360.8,1151.0 L1363.1,1156.5 L1365.5,1162.0 L1367.9,1167.6 L1370.2,1173.1 L1372.6,1178.6 L1374.9,1184.1 L1377.3,1189.6 L1379.7,1195.1 L1382.0,1200.6 L1384.5,1206.1 L1387.2,1211.5 L1389.9,1216.8 L1392.6,1222.2 L1395.5,1227.4 L1398.6,1232.6 L1401.7,1237.7 L1404.5,1243.0 L1406.8,1248.5 L1409.1,1254.1 L1411.2,1259.7 L1413.2,1265.4 L1415.1,1271.1 L1417.0,1276.7 L1418.8,1282.5 L1420.4,1288.2 L1422.1,1294.0 L1423.7,1299.8 L1425.3,1305.6 L1426.8,1311.4 L1428.2,1317.2 L1429.7,1323.0 L1431.2,1328.8 L1432.6,1334.7 L1434.1,1340.5 L1435.5,1346.3 L1437.0,1352.1 L1438.4,1357.9 L1440.0,1363.7 L1441.7,1369.5 L1443.3,1375.3 L1445.0,1381.0 L1446.7,1386.8 L1448.6,1392.5 L1450.5,1398.2 L1452.4,1403.8 L1454.5,1409.5 L1456.7,1415.0 L1459.0,1420.6 L1461.7,1425.9 L1464.8,1431.1 L1467.9,1436.2 L1471.3,1441.1 L1475.4,1445.4 L1479.7,1449.6 L1484.7,1452.8 L1490.1,1455.5 L1495.4,1458.2 L1500.8,1460.8 L1506.2,1463.5 L1511.5,1466.2 L1516.9,1468.9 L1522.3,1471.6 L1527.6,1474.3 L1533.0,1476.9 L1538.4,1479.6 L1543.7,1482.3 L1546.9,1483.9" stroke="#f9c35e" stroke-width="9.6"/>
<path d="M254.5,1485.2 L258.3,1480.5 L262.1,1475.9 L265.7,1471.1 L269.3,1466.3 L272.8,1461.4 L276.1,1456.4 L279.3,1451.4 L282.0,1446.0 L284.4,1440.5 L286.8,1435.0 L288.7,1429.4 L290.5,1423.6 L292.3,1417.9 L293.8,1412.1 L295.1,1406.2 L296.5,1400.4 L297.8,1394.5 L299.1,1388.7 L300.3,1382.8 L301.6,1376.9 L302.8,1371.1 L304.0,1365.2 L305.1,1359.3 L306.3,1353.4 L307.5,1347.5 L308.7,1341.6 L309.8,1335.8 L311.1,1329.9 L312.4,1324.0 L313.7,1318.2 L315.1,1312.4 L316.6,1306.5 L318.2,1300.7 L319.7,1294.9 L321.3,1289.2 L322.8,1283.4 L324.3,1277.6 L325.9,1271.8 L327.4,1266.0 L329.0,1260.2 L330.5,1254.4 L332.1,1248.6 L333.7,1242.8 L335.4,1237.0 L337.1,1231.3 L338.9,1225.5 L340.6,1219.8 L342.3,1214.1 L344.0,1208.3 L345.8,1202.6 L347.5,1196.8 L349.2,1191.1 L350.9,1185.3 L352.7,1179.6 L354.4,1173.8 L356.1,1168.1 L357.8,1162.3 L359.5,1156.6 L361.1,1150.8 L362.6,1145.0 L364.2,1139.2 L365.7,1133.4 L367.3,1127.6 L368.8,1121.8 L370.4,1116.0 L371.9,1110.2 L373.5,1104.4 L375.0,1098.6 L376.6,1092.8 L378.1,1087.0 L379.7,1081.2 L381.2,1075.4 L382.9,1069.7 L384.5,1063.9 L386.2,1058.1 L387.9,1052.4 L389.5,1046.6 L391.2,1040.8 L392.9,1035.1 L394.5,1029.3 L396.2,1023.5 L397.9,1017.8 L399.5,1012.0 L401.2,1006.3 L402.9,1000.5 L404.5,994.7 L406.2,989.0 L407.9,983.2 L409.5,977.4 L411.3,971.7 L413.0,965.9 L414.7,960.2 L416.4,954.5 L418.2,948.7 L419.9,943.0 L421.6,937.2 L423.3,931.5 L425.0,925.7 L426.8,920.0 L428.5,914.2 L430.3,908.5 L432.2,902.8 L434.2,897.2 L436.2,891.5 L438.2,885.8 L440.2,880.2 L442.2,874.5 L444.2,868.9 L446.3,863.2 L448.5,857.7 L450.7,852.1 L452.9,846.5 L455.1,840.9 L457.1,835.3 L459.1,829.6 L461.1,824.0 L463.1,818.3 L465.1,812.7 L467.1,807.0 L469.2,801.4 L471.4,795.8 L473.5,790.2 L475.7,784.6 L477.7,778.9 L479.7,773.3 L481.7,767.6 L483.7,761.9 L485.6,756.3 L487.6,750.6 L489.6,744.9 L491.7,739.3 L494.0,733.8 L496.2,728.2 L498.4,722.6 L500.6,717.1 L502.9,711.5 L505.1,705.9 L507.3,700.3 L509.6,694.8 L511.8,689.2 L514.1,683.7 L516.3,678.1 L518.6,672.5 L521.2,667.1 L524.1,661.9 L526.9,656.6 L529.3,651.1 L531.7,645.6 L534.6,640.5 L539.2,637.6 L543.6,634.7 L545.9,629.3 L548.1,623.7 L550.8,618.3 L553.4,613.0 L556.1,607.6 L558.9,602.3 L561.8,597.1 L564.7,591.8 L567.5,586.5 L570.1,581.1 L572.8,575.7 L575.5,570.4 L578.4,565.1 L581.3,559.8 L584.1,554.6 L587.0,549.3 L589.9,544.0 L592.8,538.8 L595.9,533.7 L599.3,528.7 L602.7,523.7 L606.5,519.1 L610.5,514.7 L614.4,510.2 L618.4,505.6 L622.3,501.1 L625.6,496.2 L628.4,490.8 L631.0,485.4 L634.1,480.5 L639.1,477.5 L644.9,476.0 L650.8,474.9 L656.6,473.8 L662.5,472.3 L668.2,470.7 L673.8,468.7 L678.2,464.8 L682.5,460.6 L687.3,457.2 L692.8,454.8 L698.1,452.1 L702.5,448.1 L706.8,443.9 L711.2,439.9 L716.3,436.8 L721.6,433.9 L726.8,430.9 L732.0,428.0 L737.3,425.0 L742.5,422.1 L747.5,418.9 L752.4,415.3 L757.2,411.7 L762.0,408.1 L766.8,404.6 L771.6,401.0 L776.4,397.4 L781.3,393.9 L786.4,390.8 L791.6,387.8 L796.8,384.7 L802.0,381.8 L807.3,379.0 L812.7,376.3 L818.1,373.7 L823.7,371.8 L829.2,372.2 L834.3,373.0 L839.5,370.5 L844.8,367.7 L850.1,364.8 L855.4,362.0 L860.8,359.3 L866.1,356.7 L871.5,354.0 L876.9,351.3 L882.2,348.6 L887.6,345.9 L893.0,343.2 L898.3,340.6 L903.7,337.9 L909.2,335.7 L914.9,335.6 L918.5,338.9 L920.3,344.6 L922.0,350.3 L924.5,355.8 L927.8,360.3 L932.7,360.3 L938.1,357.8 L943.5,355.2 L949.0,353.0 L954.9,351.9 L960.5,350.1 L965.9,347.5 L971.3,344.8 L976.4,341.7 L981.5,338.5 L986.7,335.4 L992.0,332.7 L997.5,330.5 L1003.4,330.1 L1009.4,330.1 L1015.4,330.1 L1021.4,330.1 L1027.2,330.4 L1032.1,333.2 L1036.3,337.4 L1040.4,341.8 L1044.2,346.4 L1048.6,350.3 L1053.9,353.1 L1059.5,355.0 L1065.4,355.9 L1071.4,356.5 L1077.3,356.7 L1082.7,358.6 L1087.4,362.2 L1092.3,365.7 L1097.2,369.1 L1101.1,373.4 L1103.8,378.8 L1106.5,384.1 L1109.2,389.5 L1112.1,394.7 L1116.3,398.8 L1120.6,402.8 L1123.2,408.1 L1125.5,413.7 L1127.7,419.2 L1129.9,424.8 L1132.2,430.4 L1134.4,435.9 L1136.9,441.4 L1139.6,446.8 L1142.4,452.1 L1145.6,457.1 L1148.7,462.2 L1150.2,467.9 L1151.2,473.8 L1152.2,479.7 L1153.1,485.7 L1153.9,491.6 L1154.6,497.6 L1155.4,503.5 L1156.1,509.5 L1157.4,515.3 L1159.3,521.0 L1161.2,526.7 L1163.2,532.4 L1165.6,537.8 L1168.3,543.2 L1171.4,548.3 L1175.5,552.6 L1179.7,556.9 L1183.4,561.6 L1186.7,566.6 L1189.3,572.0 L1191.2,577.6 L1193.1,583.3 L1195.1,589.0 L1197.5,594.5 L1200.2,599.8 L1202.4,605.3 L1203.6,611.2 L1204.6,617.1 L1205.6,623.0 L1207.5,628.6 L1210.2,634.0 L1213.1,639.2 L1217.5,643.0 L1222.7,644.0 L1227.9,642.7 L1231.0,646.3 L1233.4,651.8 L1236.4,657.0 L1239.7,662.0 L1243.5,666.6 L1247.4,671.0 L1249.7,676.4 L1251.1,682.2 L1252.6,688.0 L1255.0,691.4 L1259.5,688.9 L1263.9,684.8 L1268.2,680.6 L1272.5,676.5 L1277.4,673.3 L1283.1,672.0 L1289.0,670.8 L1294.6,671.1 L1299.6,674.1 L1304.7,677.4 L1309.7,680.6 L1314.8,683.8 L1319.6,687.4 L1323.9,691.6 L1328.0,695.9 L1331.8,700.6 L1335.4,705.4 L1338.9,710.2 L1342.1,715.3 L1345.2,720.4 L1348.3,725.6 L1351.2,730.8 L1353.9,736.2 L1356.6,741.5 L1359.1,747.0 L1361.2,752.6 L1363.2,758.3 L1365.2,763.9 L1367.3,769.5 L1370.1,774.8 L1373.2,780.0 L1376.2,785.1 L1379.0,790.4 L1381.4,795.9 L1383.7,801.5 L1386.0,807.0 L1387.8,812.7 L1389.3,818.5 L1390.8,824.3 L1392.2,830.2 L1393.1,836.1 L1393.9,842.0 L1394.7,848.0 L1395.3,853.9 L1395.4,859.9 L1395.6,865.9 L1395.7,871.9 L1395.8,877.9 L1395.9,883.9 L1395.9,889.9 L1395.8,895.9 L1395.7,901.9 L1395.6,907.9 L1395.6,913.9 L1395.7,919.9 L1395.9,925.9 L1396.0,931.9 L1396.2,937.9 L1396.4,943.9 L1396.6,949.9 L1396.7,955.9 L1396.9,961.9 L1397.0,967.9 L1397.2,973.9 L1398.2,979.7 L1400.2,985.4 L1402.7,990.7 L1406.8,994.9 L1411.3,998.8 L1415.3,1003.3 L1418.9,1008.0 L1421.3,1013.4 L1423.0,1019.2 L1424.8,1024.9 L1426.7,1030.5 L1428.9,1036.1 L1431.9,1041.1 L1436.4,1045.0 L1440.7,1049.2 L1444.5,1053.7 L1449.5,1055.7 L1455.5,1055.8 L1461.5,1056.0 L1467.4,1056.7 L1473.4,1057.2 L1479.3,1056.6 L1485.3,1055.9 L1491.2,1055.8 L1496.8,1057.2 L1501.9,1060.3 L1507.0,1063.5 L1511.5,1067.4 L1515.8,1071.6 L1519.6,1076.2 L1522.4,1081.5 L1525.0,1086.9 L1526.7,1092.6 L1527.7,1098.5 L1528.6,1104.4 L1529.6,1110.3 L1530.5,1116.3 L1531.3,1122.2 L1532.2,1128.1 L1533.1,1134.1 L1534.3,1139.9 L1535.5,1145.8 L1536.8,1151.7 L1538.1,1157.5 L1540.2,1163.1 L1542.5,1168.7 L1544.8,1174.2 L1547.0,1179.8 L1549.0,1185.4 L1550.9,1191.1 L1552.8,1196.8 L1554.7,1202.5 L1556.6,1208.2 L1558.5,1213.9 L1560.4,1219.6 L1562.3,1225.3 L1564.2,1231.0 L1566.0,1236.7 L1567.9,1242.4 L1569.8,1248.1 L1571.7,1253.8 L1573.6,1259.4 L1575.4,1265.2 L1577.1,1270.9 L1578.7,1276.7 L1580.4,1282.5 L1582.0,1288.2 L1583.7,1294.0 L1585.3,1299.8 L1587.0,1305.6 L1588.6,1311.3 L1590.1,1317.1 L1591.5,1323.0 L1593.0,1328.8 L1594.5,1334.6 L1595.9,1340.4 L1597.2,1346.3 L1598.5,1352.1 L1599.8,1358.0 L1601.1,1363.9 L1602.4,1369.7 L1603.8,1375.5 L1605.3,1381.4 L1606.7,1387.2 L1608.2,1393.0 L1609.7,1398.8 L1611.6,1404.5 L1613.4,1410.2 L1615.4,1415.9 L1617.7,1421.4 L1620.8,1426.5 L1623.9,1431.7 L1626.9,1436.8 L1630.0,1442.0 L1633.1,1447.1 L1636.3,1452.1 L1640.8,1455.5 L1646.4,1457.7 L1652.0,1459.9 L1657.4,1462.5 L1662.8,1465.2 L1668.3,1467.4 L1674.1,1469.1 L1679.8,1470.8 L1685.6,1472.2 L1691.5,1473.3 L1697.4,1474.4 L1703.3,1475.5 L1709.2,1476.6 L1715.1,1477.8 L1721.0,1479.1 L1726.7,1480.8 L1732.4,1482.5 L1737.5,1484.0" stroke="#ff0000" stroke-width="9.6"/>
</g>
<text x="256.0" y="1581" font-family="'Liberation Serif', 'Times New Roman', serif" font-size="68" text-anchor="middle" fill="#000">0</text>
<text x="509.6" y="1581" font-family="'Liberation Serif', 'Times New Roman', serif" font-size="68" text-anchor="middle" fill="#000">2</text>
<text x="763.2" y="1581" font-family="'Liberation Serif', 'Times New Roman', serif" font-size="68" text-anchor="middle" fill="#000">4</text>
<text x="1016.8" y="1581" font-family="'Liberation Serif', 'Times New Roman', serif" font-size="68" text-anchor="middle" fill="#000">6</text>
<text x="1270.4" y="1581" font-family="'Liberation Serif', 'Times New Roman', serif" font-size="68" text-anchor="middle" fill="#000">8</text>
<text x="1524.0" y="1581" font-family="'Liberation Serif', 'Times New Roman', serif" font-size="68" text-anchor="middle" fill="#000">10</text>
<text x="1777.6" y="1581" font-family="'Liberation Serif', 'Times New Roman', serif" font-size="68" text-anchor="middle" fill="#000">12</text>
<text x="2031.2" y="1581" font-family="'Liberation Serif', 'Times New Roman', serif" font-size="68" text-anchor="middle" fill="#000">14</text>
<text x="209.5" y="1507.5" font-family="'Liberation Serif', 'Times New Roman', serif" font-size="88" text-anchor="end" fill="#000">0</text>
<text x="209.5" y="1221.3" font-family="'Liberation Serif', 'Times New Roman', serif" font-size="88" text-anchor="end" fill="#000">2</text>
<text x="209.5" y="935.1" font-family="'Liberation Serif', 'Times New Roman', serif" font-size="88" text-anchor="end" fill="#000">4</text>
<text x="209.5" y="648.9" font-family="'Liberation Serif', 'Times New Roman', serif" font-size="88" text-anchor="end" fill="#000">6</text>
<text x="209.5" y="362.7" font-family="'Liberation Serif', 'Times New Roman', serif" font-size="88" text-anchor="end" fill="#000">8</text>
<text x="209.5" y="76.5" font-family="'Liberation Serif', 'Times New Roman', serif" font-size="88" text-anchor="end" fill="#000">10</text>
<text x="1143" y="1713" font-family="'Liberation Serif', 'Times New Roman', serif" font-size="88" text-anchor="middle" fill="#000">Displacement(mm)</text>
<text transform="translate(84,767) rotate(-90)" x="0" y="0" font-family="'Liberation Serif', 'Times New Roman', serif" font-size="88" text-anchor="middle" fill="#000">Load(kN)</text>
<rect x="1622" y="111" width="377.5" height="664.7" fill="#000"/>
<rect x="1601.8" y="90.7" width="377.8" height="665.6" fill="#fff" stroke="#5c5c5c" stroke-width="2.4"/>
<line x1="1614" y1="152" x2="1810" y2="152" stroke="#505050" stroke-width="10" stroke-linecap="round"/>
<text x="1831" y="180.0" font-family="'Liberation Serif', 'Times New Roman', serif" font-size="89" fill="#000">A-1</text>
<line x1="1614" y1="259.5" x2="1810" y2="259.5" stroke="#00a2ff" stroke-width="10" stroke-linecap="round"/>
<text x="1831" y="287.5" font-family="'Liberation Serif', 'Times New Roman', serif" font-size="89" fill="#000">A-2</text>
<line x1="1614" y1="369.5" x2="1810" y2="369.5" stroke="#c278e4" stroke-width="10" stroke-linecap="round"/>
<text x="1831" y="397.5" font-family="'Liberation Serif', 'Times New Roman', serif" font-size="89" fill="#000">A-3</text>
<line x1="1614" y1="477.5" x2="1810" y2="477.5" stroke="#00ad64" stroke-width="10" stroke-linecap="round"/>
<text x="1831" y="505.5" font-family="'Liberation Serif', 'Times New Roman', serif" font-size="89" fill="#000">B-1</text>
<line x1="1614" y1="584.6" x2="1810" y2="584.6" stroke="#f9c35e" stroke-width="10" stroke-linecap="round"/>
<text x="1831" y="612.6" font-family="'Liberation Serif', 'Times New Roman', serif" font-size="89" fill="#000">B-2</text>
<line x1="1614" y1="695.4" x2="1810" y2="695.4" stroke="#ff0000" stroke-width="10" stroke-linecap="round"/>
<text x="1831" y="723.4" font-family="'Liberation Serif', 'Times New Roman', serif" font-size="89" fill="#000">B-3</text>
</svg>
</body></html>
